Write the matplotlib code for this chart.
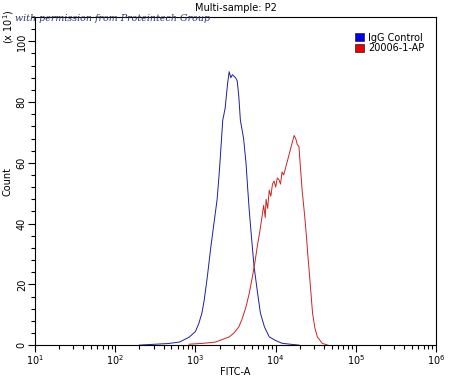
import matplotlib
matplotlib.use("Agg")
import matplotlib.pyplot as plt
import matplotlib.patches as mpatches
from matplotlib.ticker import LogLocator, NullFormatter, MultipleLocator
import numpy as np

# histogram traces: log10(FITC-A) and count (x10)
igg_logx = [2.30, 2.50, 2.65, 2.80, 2.92, 3.00, 3.04, 3.08, 3.11, 3.15, 3.19, 3.23, 3.27,
            3.30, 3.34, 3.37, 3.40, 3.42, 3.44, 3.46, 3.48, 3.50, 3.52, 3.54, 3.56,
            3.60, 3.63, 3.65, 3.67, 3.70, 3.73, 3.77, 3.81, 3.86, 3.92, 4.00, 4.08, 4.18, 4.29]
igg_count = [0.0, 0.3, 0.5, 1.0, 2.6, 4.5, 7.0, 10.5, 15.0, 23.0, 32.0, 40.0, 48.0,
             58.0, 74.0, 78.0, 86.0, 90.0, 88.0, 89.0, 88.5, 88.0, 87.0, 82.0, 74.0,
             68.0, 60.0, 52.0, 44.5, 35.0, 26.0, 18.0, 10.5, 6.0, 2.7, 1.5, 0.6, 0.3, 0.0]

ap_logx = [2.92, 3.10, 3.25, 3.35, 3.42, 3.48, 3.54, 3.58, 3.63, 3.67, 3.71, 3.74, 3.77,
           3.80, 3.83, 3.85, 3.87, 3.88, 3.90, 3.92, 3.94, 3.96, 3.98, 4.00, 4.02,
           4.04, 4.06, 4.08, 4.10, 4.12, 4.15, 4.18, 4.21, 4.23, 4.25, 4.27, 4.29,
           4.31, 4.33, 4.36, 4.38, 4.40, 4.42, 4.46, 4.49, 4.52, 4.58, 4.65]
ap_count = [0.3, 0.6, 1.0, 2.0, 2.7, 4.0, 6.0, 8.5, 12.6, 17.0, 22.5, 27.0, 32.4,
            37.0, 42.3, 46.0, 42.0, 48.0, 45.0, 51.0, 49.0, 53.0, 54.0, 52.0, 55.0,
            54.5, 53.0, 57.0, 56.0, 58.0, 61.0, 64.0, 67.0, 69.0, 68.0, 66.0, 65.4,
            58.0, 51.0, 43.0, 37.0, 30.0, 23.7, 10.5, 5.5, 2.7, 0.6, 0.0]

fig = plt.figure(figsize=(4.5, 3.78), dpi=100)
ax = fig.add_axes([0.078, 0.087, 0.891, 0.868])

ax.plot(10 ** np.array(igg_logx), igg_count, color='#1e1e9c', lw=0.7)
ax.plot(10 ** np.array(ap_logx), ap_count, color='#cc2424', lw=0.7)

ax.set_xscale('log')
ax.set_xlim(10, 1e6)
ax.set_ylim(0, 108)

ax.xaxis.set_major_locator(LogLocator(base=10, numticks=10))
ax.xaxis.set_minor_locator(LogLocator(base=10, subs=np.arange(2, 10), numticks=20))
ax.xaxis.set_minor_formatter(NullFormatter())
ax.yaxis.set_major_locator(MultipleLocator(20))
ax.yaxis.set_minor_locator(MultipleLocator(4))

ax.tick_params(which='major', direction='out', length=5, width=0.8, labelsize=7, pad=1)
ax.tick_params(which='minor', direction='out', length=3, width=0.8)
for lbl in ax.get_yticklabels():
    lbl.set_rotation(90)
    lbl.set_va('center')
for s in ax.spines.values():
    s.set_linewidth(0.8)

ax.set_xlabel('FITC-A', fontsize=7, labelpad=0)
ax.set_ylabel('Count', fontsize=7, labelpad=3)
ax.set_title('Multi-sample: P2', fontsize=7, pad=4)

fig.text(0.003, 0.975, '(x 10$^1$)', rotation=90, fontsize=7, ha='left', va='top')
fig.text(0.034, 0.951, 'with permission from Proteintech Group', fontsize=6.8,
         family='serif', style='italic', color='#2a3560', ha='left', va='center')

handles = [mpatches.Patch(facecolor='#0000ee', edgecolor='#222222', lw=0.5, label='IgG Control'),
           mpatches.Patch(facecolor='#ee0000', edgecolor='#222222', lw=0.5, label='20006-1-AP')]
ax.legend(handles=handles, loc='upper right', bbox_to_anchor=(0.985, 0.97), frameon=False,
          fontsize=7, handlelength=0.9, handleheight=0.9, handletextpad=0.4,
          labelspacing=0.05, borderaxespad=0.2)

fig.savefig('out.png', dpi=100)
